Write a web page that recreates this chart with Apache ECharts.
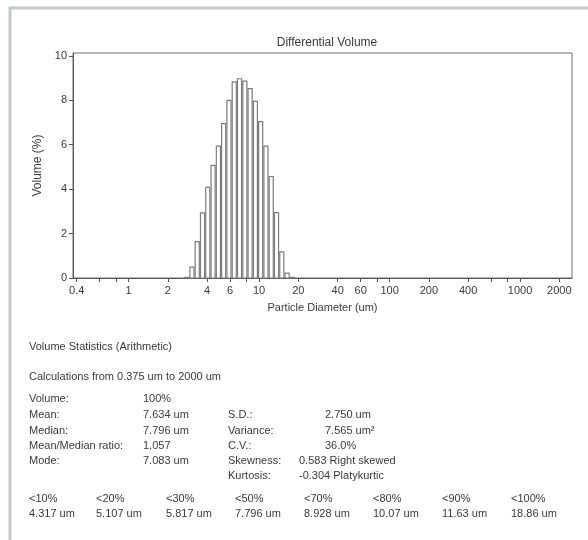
<!DOCTYPE html>
<html>
<head>
<meta charset="utf-8">
<script src="https://cdn.jsdelivr.net/npm/echarts@6/dist/echarts.min.js"></script>
<style>
  html, body { margin: 0; padding: 0; background: #fff; }
  #main { width: 588px; height: 540px; }
</style>
</head>
<body>
<div id="main"></div>
<script>
// channel edges (um) of the non-empty channels, and volume % per channel
var binEdges = [2.659, 2.918, 3.203, 3.518, 3.862, 4.239, 4.654, 5.109, 5.609, 6.158, 6.760,
                7.421, 8.146, 8.943, 9.813, 10.77, 11.83, 12.98, 14.25, 15.65, 17.18, 18.86];
var volume = [0.03, 0.49, 1.64, 2.93, 4.08, 5.07, 5.94, 6.95, 8.00, 8.83, 8.97,
              8.86, 8.53, 7.95, 7.04, 5.94, 4.57, 2.94, 1.18, 0.22, 0.03];

var xTicks = [0.4, 0.6, 0.8, 1, 2, 4, 6, 8, 10, 20, 40, 60, 80, 100, 200, 400, 600, 800, 1000, 2000];
var xLabels = [0.4, 1, 2, 4, 6, 10, 20, 40, 60, 100, 200, 400, 1000, 2000];
var yTicks = [0, 2, 4, 6, 8, 10];

var statLabels = ['Volume:', 'Mean:', 'Median:', 'Mean/Median ratio:', 'Mode:'];
var statValues = ['100%', '7.634 um', '7.796 um', '1.057', '7.083 um'];
var spreadLabels = ['S.D.:', 'Variance:', 'C.V.:', 'Skewness:', 'Kurtosis:'];
var spreadValues = ['2.750 um', '7.565 um\u00b2', '36.0%', '0.583 Right skewed', '-0.304 Platykurtic'];
var pctLabels = ['<10%', '<20%', '<30%', '<50%', '<70%', '<80%', '<90%', '<100%'];
var pctValues = ['4.317 um', '5.107 um', '5.817 um', '7.796 um', '8.928 um', '10.07 um', '11.63 um', '18.86 um'];

var FONT = '"Liberation Sans", Arial, sans-serif';
var TXT = '#3a3a3a';
var lg = Math.log10;

var bars = [];
for (var i = 0; i < volume.length; i++) {
  bars.push([lg(binEdges[i]), lg(binEdges[i + 1]), volume[i]]);
}

function txt(x, y, s, size) {
  return {
    type: 'text', x: x, y: y,
    style: {
      text: s, fill: TXT, fontSize: size || 11, fontFamily: FONT,
      align: 'left', verticalAlign: 'middle', textAlign: 'left', textVerticalAlign: 'middle'
    }
  };
}

var graphics = [
  { type: 'rect', shape: { x: 10, y: 8, width: 620, height: 580 },
    style: { fill: 'none', stroke: '#c2cacf', lineWidth: 3 }, silent: true },
  txt(29, 347, 'Volume Statistics (Arithmetic)'),
  txt(29, 377, 'Calculations from 0.375 um to 2000 um')
];
var rowY = [399, 415, 430.5, 446, 461, 476];
statLabels.forEach(function (s, k) {
  graphics.push(txt(29, rowY[k], s));
  graphics.push(txt(143, rowY[k], statValues[k]));
});
spreadLabels.forEach(function (s, k) {
  graphics.push(txt(228, rowY[k + 1], s));
  graphics.push(txt(k < 3 ? 325 : 299, rowY[k + 1], spreadValues[k]));
});
var pctX = [29, 96, 166, 235, 304, 373, 442, 511];
pctLabels.forEach(function (s, k) {
  graphics.push(txt(pctX[k], 499, s));
  graphics.push(txt(pctX[k], 514, pctValues[k]));
});

var myChart = echarts.init(document.getElementById('main'));

var option = {
  backgroundColor: '#fff',
  animation: false,
  title: {
    text: 'Differential Volume',
    left: 322, top: 32, textAlign: 'center',
    textStyle: { fontSize: 12, fontWeight: 'normal', color: TXT, fontFamily: FONT }
  },
  grid: {
    left: 73, right: 16, top: 53, bottom: 262,
    show: true, borderColor: '#6e6e6e', borderWidth: 1, backgroundColor: 'transparent'
  },
  xAxis: {
    type: 'value',
    min: lg(0.375), max: lg(2500),
    name: 'Particle Diameter (um)',
    nameLocation: 'middle', nameGap: 24,
    nameTextStyle: { fontSize: 11, color: TXT, fontFamily: FONT },
    axisLine: { onZero: false, lineStyle: { color: '#555', width: 1 } },
    axisTick: { customValues: xTicks.map(lg), length: 4, lineStyle: { color: '#555' } },
    axisLabel: {
      customValues: xLabels.map(lg), margin: 7, fontSize: 11, color: TXT, fontFamily: FONT,
      formatter: function (v) { return String(Math.round(Math.pow(10, v) * 100) / 100); }
    },
    splitLine: { show: false }
  },
  yAxis: {
    type: 'value', min: 0, max: 10.13,
    name: 'Volume (%)', nameLocation: 'middle', nameGap: 27,
    nameTextStyle: { fontSize: 12, color: TXT, fontFamily: FONT },
    axisLine: { show: true, onZero: false, lineStyle: { color: '#555', width: 1 } },
    axisTick: { show: true, customValues: yTicks, length: 4, lineStyle: { color: '#555' } },
    axisLabel: { customValues: yTicks, margin: 6, fontSize: 11, color: TXT, fontFamily: FONT },
    splitLine: { show: false }
  },
  series: [{
    type: 'custom',
    data: bars,
    encode: { x: [0, 1], y: 2 },
    renderItem: function (params, api) {
      var p0 = api.coord([api.value(0), api.value(2)]);
      var p1 = api.coord([api.value(1), 0]);
      return {
        type: 'rect',
        shape: { x: p0[0] + 0.6, y: p0[1], width: p1[0] - p0[0] - 1.2, height: p1[1] - p0[1] },
        style: { fill: '#fff', stroke: '#7c7c7c', lineWidth: 1.2 }
      };
    }
  }],
  graphic: graphics
};

myChart.setOption(option);
</script>
</body>
</html>
